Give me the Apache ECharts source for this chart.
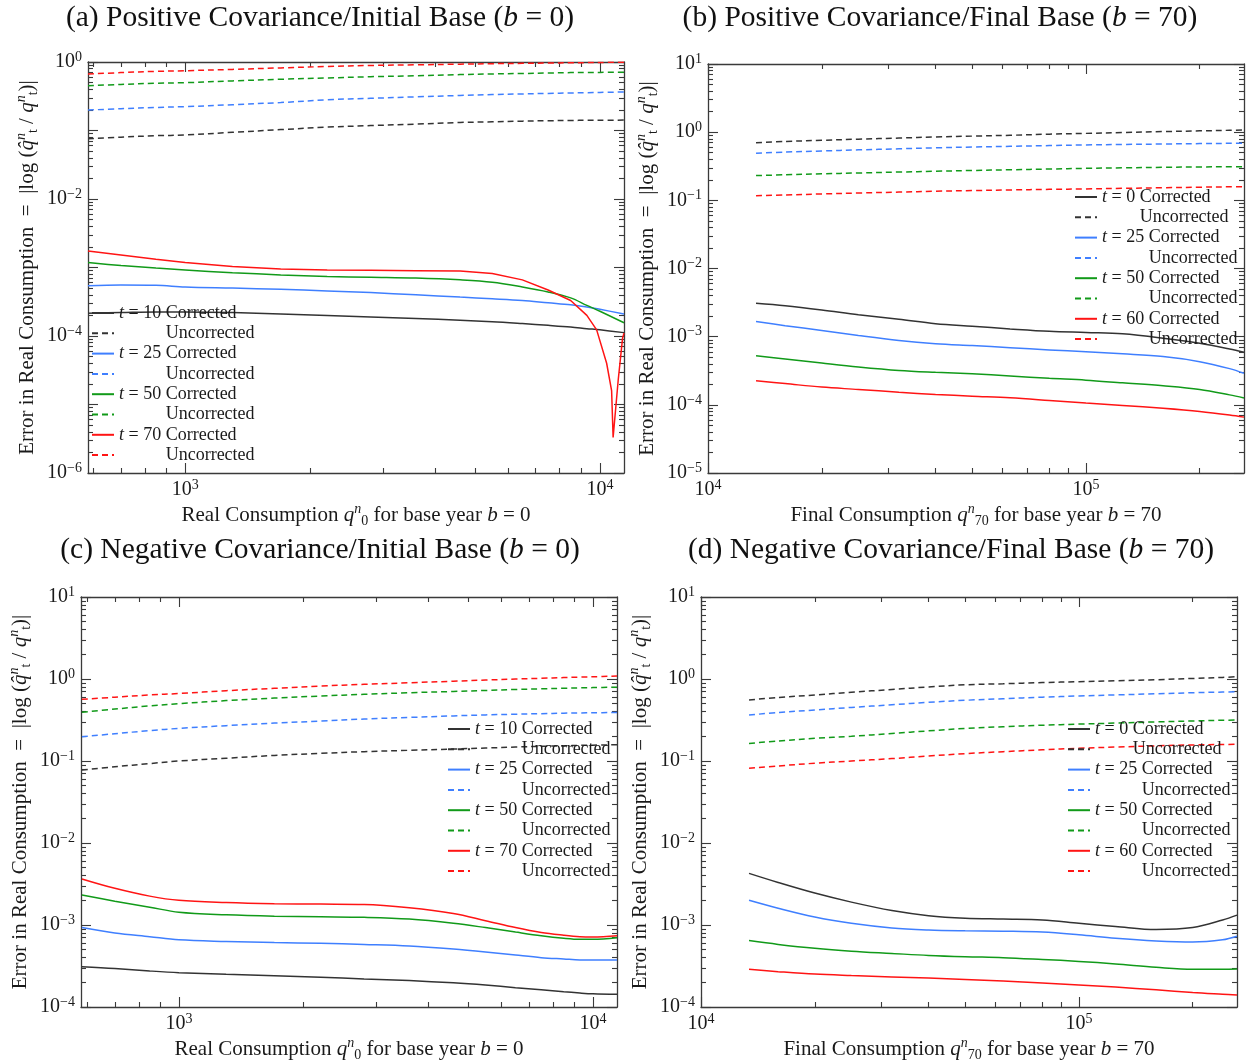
<!DOCTYPE html>
<html>
<head>
<meta charset="utf-8">
<title>Correction error</title>
<script src="https://cdn.jsdelivr.net/npm/echarts@6.0.0/dist/echarts.min.js"></script>
<style>
  html, body { margin: 0; padding: 0; background: #fff; }
  #main { width: 1251px; height: 1063px; }
</style>
</head>
<body>
<div id="main"></div>
<script>
// consumption levels along each curve
const qInitial = [583, 700, 850, 1000, 1300, 1700, 2200, 2800, 3600, 4600, 5500, 6500, 7500, 8500, 9300, 10000, 11430];
const qInitialRed = [583, 700, 850, 1000, 1300, 1700, 2200, 2800, 3600, 4600, 5500, 6500, 7500, 8500, 9300, 9820, 10380, 10670, 10760, 11070, 11340, 11430];
const qFinal = [13400, 16000, 20000, 25000, 32000, 40000, 50000, 63000, 80000, 100000, 125000, 160000, 200000, 240000, 262000];

// legend years
const tA = [10, 25, 50, 70];
const tB = [0, 25, 50, 60];
const tC = [10, 25, 50, 70];
const tD = [0, 25, 50, 60];

// tick label exponents (10^n)
const xLabelExpInitial = [3, 4];
const xLabelExpFinal = [4, 5];
const yLabelExpA = [-6, -4, -2, 0];
const yLabelExpB = [-5, -4, -3, -2, -1, 0, 1];
const yLabelExpCD = [-4, -3, -2, -1, 0, 1];

// (a) positive covariance, initial base
const aCorr10 = [2.15e-4, 2.2e-4, 2.25e-4, 2.25e-4, 2.2e-4, 2.1e-4, 2.0e-4, 1.9e-4, 1.8e-4, 1.7e-4, 1.62e-4, 1.52e-4, 1.43e-4, 1.35e-4, 1.28e-4, 1.23e-4, 1.12e-4];
const aUnc10 = [0.076, 0.080, 0.084, 0.086, 0.094, 0.103, 0.112, 0.118, 0.124, 0.131, 0.134, 0.137, 0.139, 0.140, 0.141, 0.141, 0.142];
const aCorr25 = [5.4e-4, 5.55e-4, 5.5e-4, 5.2e-4, 5.0e-4, 4.8e-4, 4.55e-4, 4.3e-4, 4.0e-4, 3.7e-4, 3.5e-4, 3.3e-4, 3.05e-4, 2.85e-4, 2.65e-4, 2.45e-4, 2.1e-4];
const aUnc25 = [0.199, 0.208, 0.217, 0.223, 0.238, 0.256, 0.281, 0.295, 0.31, 0.325, 0.335, 0.342, 0.348, 0.353, 0.357, 0.36, 0.365];
const aCorr50 = [1.18e-3, 1.07e-3, 9.8e-4, 9.2e-4, 8.4e-4, 7.8e-4, 7.4e-4, 7.2e-4, 7.0e-4, 6.6e-4, 6.1e-4, 5.2e-4, 4.4e-4, 3.6e-4, 2.8e-4, 2.3e-4, 1.56e-4];
const aUnc50 = [0.451, 0.47, 0.49, 0.499, 0.53, 0.56, 0.585, 0.61, 0.63, 0.655, 0.67, 0.68, 0.69, 0.70, 0.703, 0.705, 0.71];
const aCorr70 = [1.74e-3, 1.52e-3, 1.32e-3, 1.18e-3, 1.03e-3, 9.5e-4, 9.2e-4, 9.1e-4, 9.0e-4, 8.9e-4, 8.2e-4, 6.6e-4, 4.7e-4, 3.3e-4, 2.0e-4, 1.23e-4, 4.0e-5, 1.6e-5, 3.3e-6, 2.3e-5, 9.3e-5, 1.1e-4];
const aUnc70 = [0.668, 0.70, 0.73, 0.746, 0.78, 0.82, 0.86, 0.89, 0.91, 0.93, 0.945, 0.955, 0.965, 0.975, 0.98, 0.985, 0.995];

// (b) positive covariance, final base
const bCorr0 = [3.1e-3, 2.85e-3, 2.47e-3, 2.1e-3, 1.8e-3, 1.55e-3, 1.42e-3, 1.3e-3, 1.2e-3, 1.15e-3, 1.1e-3, 9.5e-4, 8.0e-4, 6.6e-4, 5.9e-4];
const bUnc0 = [0.70, 0.73, 0.76, 0.79, 0.82, 0.85, 0.875, 0.90, 0.935, 0.96, 0.99, 1.02, 1.045, 1.065, 1.075];
const bCorr25 = [1.67e-3, 1.45e-3, 1.23e-3, 1.04e-3, 8.8e-4, 7.9e-4, 7.4e-4, 6.9e-4, 6.4e-4, 6.0e-4, 5.6e-4, 5.1e-4, 4.3e-4, 3.4e-4, 2.9e-4];
const bUnc25 = [0.49, 0.51, 0.53, 0.55, 0.57, 0.59, 0.605, 0.62, 0.635, 0.65, 0.66, 0.67, 0.68, 0.686, 0.69];
const bCorr50 = [5.25e-4, 4.7e-4, 4.1e-4, 3.6e-4, 3.2e-4, 3.0e-4, 2.85e-4, 2.65e-4, 2.45e-4, 2.3e-4, 2.1e-4, 1.9e-4, 1.68e-4, 1.4e-4, 1.26e-4];
const bUnc50 = [0.231, 0.237, 0.245, 0.252, 0.26, 0.267, 0.274, 0.281, 0.288, 0.295, 0.30, 0.305, 0.309, 0.311, 0.312];
const bCorr60 = [2.25e-4, 2.05e-4, 1.82e-4, 1.68e-4, 1.53e-4, 1.42e-4, 1.34e-4, 1.27e-4, 1.16e-4, 1.06e-4, 9.8e-5, 8.9e-5, 8.0e-5, 7.1e-5, 6.6e-5];
const bUnc60 = [0.117, 0.120, 0.124, 0.128, 0.132, 0.136, 0.139, 0.142, 0.145, 0.147, 0.150, 0.153, 0.156, 0.158, 0.159];

// (c) negative covariance, initial base
const cCorr10 = [3.1e-4, 2.95e-4, 2.75e-4, 2.62e-4, 2.5e-4, 2.4e-4, 2.3e-4, 2.2e-4, 2.1e-4, 1.97e-4, 1.85e-4, 1.72e-4, 1.62e-4, 1.53e-4, 1.48e-4, 1.45e-4, 1.43e-4];
const cUnc10 = [0.0776, 0.085, 0.093, 0.10, 0.108, 0.117, 0.124, 0.13, 0.135, 0.14, 0.144, 0.148, 0.151, 0.153, 0.155, 0.156, 0.158];
const cCorr25 = [9.3e-4, 8.0e-4, 7.2e-4, 6.6e-4, 6.3e-4, 6.1e-4, 6.0e-4, 5.8e-4, 5.55e-4, 5.1e-4, 4.7e-4, 4.3e-4, 4.0e-4, 3.85e-4, 3.75e-4, 3.74e-4, 3.74e-4];
const cUnc25 = [0.198, 0.215, 0.235, 0.25, 0.27, 0.29, 0.307, 0.325, 0.34, 0.355, 0.365, 0.372, 0.378, 0.383, 0.386, 0.388, 0.39];
const cCorr50 = [2.32e-3, 1.95e-3, 1.65e-3, 1.43e-3, 1.33e-3, 1.28e-3, 1.26e-3, 1.24e-3, 1.18e-3, 1.05e-3, 9.3e-4, 8.2e-4, 7.4e-4, 6.9e-4, 6.7e-4, 6.7e-4, 7.0e-4];
const cUnc50 = [0.393, 0.43, 0.47, 0.50, 0.545, 0.585, 0.62, 0.65, 0.68, 0.705, 0.725, 0.745, 0.76, 0.77, 0.78, 0.785, 0.795];
const cCorr70 = [3.64e-3, 2.8e-3, 2.25e-3, 2.0e-3, 1.88e-3, 1.82e-3, 1.80e-3, 1.78e-3, 1.62e-3, 1.38e-3, 1.13e-3, 9.3e-4, 8.1e-4, 7.5e-4, 7.2e-4, 7.15e-4, 7.4e-4];
const cUnc70 = [0.565, 0.60, 0.64, 0.665, 0.72, 0.77, 0.82, 0.86, 0.90, 0.94, 0.97, 1.0, 1.02, 1.04, 1.055, 1.065, 1.085];

// (d) negative covariance, final base
const dCorr0 = [4.26e-3, 3.3e-3, 2.45e-3, 1.9e-3, 1.5e-3, 1.3e-3, 1.21e-3, 1.18e-3, 1.15e-3, 1.05e-3, 9.6e-4, 8.8e-4, 9.3e-4, 1.15e-3, 1.32e-3];
const dUnc0 = [0.555, 0.595, 0.638, 0.69, 0.745, 0.80, 0.85, 0.875, 0.905, 0.927, 0.95, 0.98, 1.015, 1.045, 1.066];
const dCorr25 = [2.0e-3, 1.6e-3, 1.25e-3, 1.05e-3, 9.2e-4, 8.7e-4, 8.5e-4, 8.4e-4, 8.2e-4, 7.6e-4, 6.9e-4, 6.4e-4, 6.2e-4, 6.6e-4, 7.3e-4];
const dUnc25 = [0.364, 0.39, 0.419, 0.45, 0.485, 0.52, 0.55, 0.575, 0.60, 0.621, 0.64, 0.66, 0.68, 0.693, 0.70];
const dCorr50 = [6.45e-4, 5.8e-4, 5.2e-4, 4.8e-4, 4.5e-4, 4.25e-4, 4.1e-4, 4.0e-4, 3.8e-4, 3.6e-4, 3.35e-4, 3.05e-4, 2.88e-4, 2.88e-4, 2.9e-4];
const dUnc50 = [0.164, 0.175, 0.189, 0.20, 0.217, 0.233, 0.25, 0.262, 0.273, 0.282, 0.29, 0.30, 0.308, 0.314, 0.316];
const dCorr60 = [2.88e-4, 2.7e-4, 2.52e-4, 2.42e-4, 2.33e-4, 2.25e-4, 2.17e-4, 2.07e-4, 1.96e-4, 1.86e-4, 1.75e-4, 1.62e-4, 1.5e-4, 1.43e-4, 1.4e-4];
const dUnc60 = [0.0815, 0.087, 0.094, 0.10, 0.107, 0.115, 0.123, 0.13, 0.137, 0.143, 0.148, 0.153, 0.157, 0.159, 0.16];

const FONT = '"Liberation Serif", "DejaVu Serif", serif';
const INK = '#1a1a1a';
const FRAME = '#3a3a3a';
const COLORS = ['#333333', '#3f7fff', '#119a19', '#ff1414'];
const DASH = [6, 4];

// layout of each panel
const panels = [
  { id: 'a', head: '(a) Positive Covariance/Initial Base (', base: 0, headPos: [320, 2],
    grid: { left: 88, top: 62, width: 536, height: 411 },
    xMin: 583, xMax: 11430, yMin: 1e-6, yMax: 1, xLabels: xLabelExpInitial, yLabels: yLabelExpA,
    ts: tA, corrX: [qInitial, qInitial, qInitial, qInitialRed], uncX: qInitial,
    corr: [aCorr10, aCorr25, aCorr50, aCorr70], unc: [aUnc10, aUnc25, aUnc50, aUnc70], legendPos: [91, 304] },
  { id: 'b', head: '(b) Positive Covariance/Final Base (', base: 70, headPos: [940, 2],
    grid: { left: 708, top: 64, width: 536, height: 409 },
    xMin: 1e4, xMax: 262000, yMin: 1e-5, yMax: 10, xLabels: xLabelExpFinal, yLabels: yLabelExpB,
    ts: tB, corrX: [qFinal, qFinal, qFinal, qFinal], uncX: qFinal,
    corr: [bCorr0, bCorr25, bCorr50, bCorr60], unc: [bUnc0, bUnc25, bUnc50, bUnc60], legendPos: [1074, 188] },
  { id: 'c', head: '(c) Negative Covariance/Initial Base (', base: 0, headPos: [320, 534],
    grid: { left: 81, top: 597, width: 536, height: 410 },
    xMin: 580, xMax: 11430, yMin: 1e-4, yMax: 10, xLabels: xLabelExpInitial, yLabels: yLabelExpCD,
    ts: tC, corrX: [qInitial, qInitial, qInitial, qInitial], uncX: qInitial,
    corr: [cCorr10, cCorr25, cCorr50, cCorr70], unc: [cUnc10, cUnc25, cUnc50, cUnc70], legendPos: [447, 720] },
  { id: 'd', head: '(d) Negative Covariance/Final Base (', base: 70, headPos: [951, 534],
    grid: { left: 701, top: 597, width: 536, height: 410 },
    xMin: 1e4, xMax: 262000, yMin: 1e-4, yMax: 10, xLabels: xLabelExpFinal, yLabels: yLabelExpCD,
    ts: tD, corrX: [qFinal, qFinal, qFinal, qFinal], uncX: qFinal,
    corr: [dCorr0, dCorr25, dCorr50, dCorr60], unc: [dUnc0, dUnc25, dUnc50, dUnc60], legendPos: [1067, 720] }
];

function logTicks(lo, hi) {
  const major = [], minor = [];
  for (let n = Math.floor(lo); n <= Math.ceil(hi); n++) {
    if (n >= lo - 1e-9 && n <= hi + 1e-9) major.push(n);
    for (let k = 2; k < 10; k++) {
      const v = n + Math.log10(k);
      if (v > lo && v < hi) minor.push(v);
    }
  }
  return { major, minor };
}

const labelRich = {
  b: { fontFamily: FONT, fontSize: 20, lineHeight: 24, color: INK },
  e: { fontFamily: FONT, fontSize: 14, lineHeight: 14, verticalAlign: 'top', color: INK }
};
function expLabel(v) {
  const e = Math.round(v);
  return '{b|10}{e|' + String(e).replace('-', '\u2212') + '}';
}

const nameRich = {
  r: { fontFamily: FONT, fontSize: 21, lineHeight: 26, color: INK },
  i: { fontFamily: FONT, fontSize: 21, lineHeight: 26, fontStyle: 'italic', color: INK },
  sup: { fontFamily: FONT, fontSize: 14, lineHeight: 14, fontStyle: 'italic', verticalAlign: 'top', color: INK },
  sub: { fontFamily: FONT, fontSize: 14, lineHeight: 14, verticalAlign: 'bottom', color: INK }
};
const yName = '{r|Error in Real Consumption  =  |log (}{i|q\u0302}{sup|n}{sub|t}{r| / }{i|q}{sup|n}{sub|t}{r|)|}';
function xName(base) {
  const word = base === 0 ? 'Real' : 'Final';
  return '{r|' + word + ' Consumption }{i|q}{sup|n}{sub|' + base + '}{r| for base year }{i|b}{r| = ' + base + '}';
}

// decorative frame axis in log10 space, carries ticks (and labels on bottom/left)
function frameAxis(gi, range, position, ticks, len, showLine, extra) {
  return Object.assign({
    type: 'value', gridIndex: gi, position: position, min: range[0], max: range[1],
    silent: true,
    axisLine: { show: showLine, onZero: false, lineStyle: { color: FRAME, width: 1.3 } },
    axisTick: { show: true, inside: true, length: len, customValues: ticks, lineStyle: { color: FRAME, width: 1.1 } },
    axisLabel: { show: false },
    splitLine: { show: false }
  }, extra || {});
}

const option = {
  animation: false,
  backgroundColor: '#fff',
  title: [], grid: [], xAxis: [], yAxis: [], legend: [], series: []
};

const legendRich = {
  it: { fontFamily: FONT, fontSize: 18, lineHeight: 20, fontStyle: 'italic', color: INK },
  tx: { fontFamily: FONT, fontSize: 18, lineHeight: 20, color: INK },
  hi: { fontFamily: FONT, fontSize: 18, lineHeight: 20, fontStyle: 'italic', color: 'rgba(0,0,0,0)' },
  hx: { fontFamily: FONT, fontSize: 18, lineHeight: 20, color: 'rgba(0,0,0,0)' }
};

panels.forEach(function (p, gi) {
  option.title.push({
    text: '{n|' + p.head + '}{i|b}{n| = ' + p.base + ')}',
    left: p.headPos[0], top: p.headPos[1], textAlign: 'center', padding: 0,
    textStyle: {
      fontWeight: 'normal',
      rich: {
        n: { fontFamily: FONT, fontSize: 29.5, lineHeight: 32, fontWeight: 'normal', color: '#111' },
        i: { fontFamily: FONT, fontSize: 29.5, lineHeight: 32, fontWeight: 'normal', fontStyle: 'italic', color: '#111' }
      }
    }
  });
  option.grid.push(Object.assign({ show: false }, p.grid));

  const xi = option.xAxis.length;
  const yi = option.yAxis.length;
  option.xAxis.push({ type: 'log', gridIndex: gi, min: p.xMin, max: p.xMax, show: false });
  option.yAxis.push({ type: 'log', gridIndex: gi, min: p.yMin, max: p.yMax, show: false });

  const xr = [Math.log10(p.xMin), Math.log10(p.xMax)];
  const yr = [Math.log10(p.yMin), Math.log10(p.yMax)];
  const xt = logTicks(xr[0], xr[1]);
  const yt = logTicks(yr[0], yr[1]);

  option.xAxis.push(frameAxis(gi, xr, 'bottom', xt.major, 10, true, {
    axisLabel: { show: true, customValues: p.xLabels, formatter: expLabel, rich: labelRich, margin: 5 },
    name: xName(p.base), nameLocation: 'middle', nameGap: 29,
    nameTextStyle: { rich: nameRich }
  }));
  option.xAxis.push(frameAxis(gi, xr, 'bottom', xt.minor, 5, false));
  option.xAxis.push(frameAxis(gi, xr, 'top', xt.major, 10, true));
  option.xAxis.push(frameAxis(gi, xr, 'top', xt.minor, 5, false));

  option.yAxis.push(frameAxis(gi, yr, 'left', yt.major, 10, true, {
    axisLabel: { show: true, customValues: p.yLabels, formatter: expLabel, rich: labelRich, margin: 6 },
    name: yName, nameLocation: 'middle', nameGap: 48,
    nameTextStyle: { rich: nameRich }
  }));
  option.yAxis.push(frameAxis(gi, yr, 'left', yt.minor, 5, false));
  option.yAxis.push(frameAxis(gi, yr, 'right', yt.major, 10, true));
  option.yAxis.push(frameAxis(gi, yr, 'right', yt.minor, 5, false));

  const names = [];
  p.ts.forEach(function (t, k) {
    const cName = p.id + '|' + t + '|c';
    const uName = p.id + '|' + t + '|u';
    names.push(cName, uName);
    const cx = p.corrX[k];
    option.series.push({
      type: 'line', name: cName, xAxisIndex: xi, yAxisIndex: yi,
      data: cx.map(function (x, i) { return [x, p.corr[k][i]]; }),
      symbol: 'none', smooth: cx.length > 20 ? false : 0.35, silent: true,
      lineStyle: { color: COLORS[k], width: 1.5 }, itemStyle: { color: COLORS[k] }
    });
    option.series.push({
      type: 'line', name: uName, xAxisIndex: xi, yAxisIndex: yi,
      data: p.uncX.map(function (x, i) { return [x, p.unc[k][i]]; }),
      symbol: 'none', smooth: 0.35, silent: true,
      lineStyle: { color: COLORS[k], width: 1.5, type: DASH }, itemStyle: { color: COLORS[k] }
    });
  });

  option.legend.push({
    data: names, orient: 'vertical', left: p.legendPos[0], top: p.legendPos[1],
    padding: 0, itemWidth: 22, itemHeight: 14, itemGap: 2.3, selectedMode: false,
    itemStyle: { opacity: 0 },
    textStyle: { fontFamily: FONT, fontSize: 18, color: INK, rich: legendRich },
    formatter: function (name) {
      const parts = name.split('|');
      if (parts[2] === 'c') return '{it|t}{tx| = ' + parts[1] + ' Corrected}';
      return '{hi|t}{hx| = ' + parts[1] + ' }{tx|Uncorrected}';
    }
  });
});

const chart = echarts.init(document.getElementById('main'));
chart.setOption(option);
</script>
</body>
</html>
